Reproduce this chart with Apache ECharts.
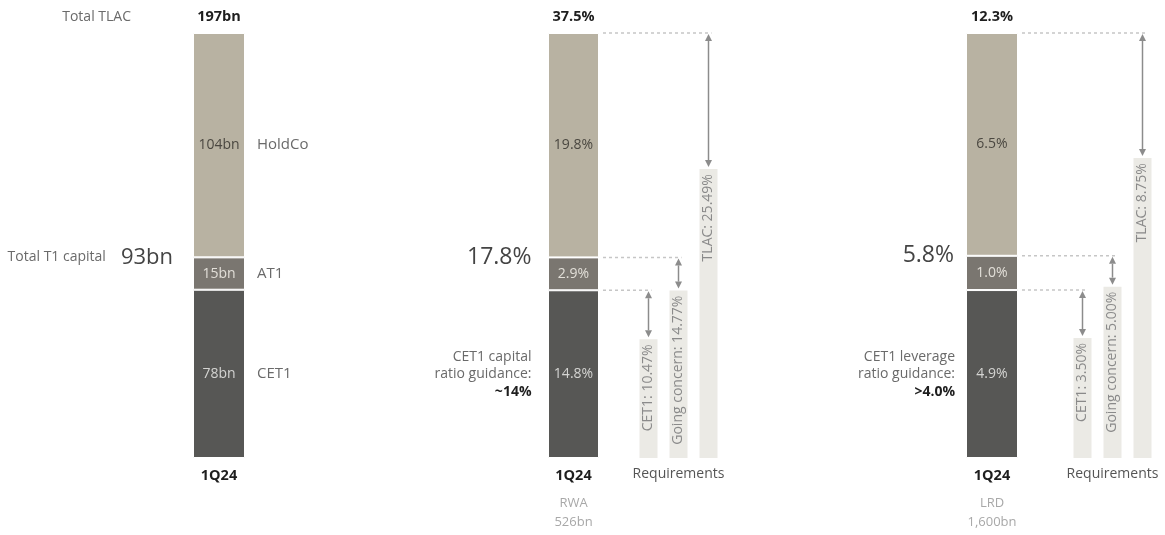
<!DOCTYPE html>
<html>
<head>
<meta charset="utf-8">
<script src="https://cdn.jsdelivr.net/npm/echarts/dist/echarts.min.js"></script>
<style>html,body{margin:0;padding:0;background:#fff}#c{width:1165px;height:535px}</style>
</head>
<body>
<div id="c"></div>
<script>
// ---------- data ----------
const period = ['1Q24'];
const segmentNames = ['CET1', 'AT1', 'HoldCo'];
const capitalBn = [78, 15, 104];
const capitalTotalLabel = '197bn';
const capitalTier1Label = '93bn';
const rwaPct = [14.8, 2.9, 19.8];
const rwaTotalLabel = '37.5%';
const rwaTier1Label = '17.8%';
const lrdPct = [4.9, 1.0, 6.5];
const lrdTotalLabel = '12.3%';
const lrdTier1Label = '5.8%';
const reqNames = ['CET1', 'Going concern', 'TLAC'];
const rwaReq = [10.47, 14.77, 25.49];
const lrdReq = [3.50, 5.00, 8.75];
const rwaDenom = ['RWA', '526bn'];
const lrdDenom = ['LRD', '1,600bn'];
const rwaGuidance = ['CET1 capital', 'ratio guidance:', '~14%'];
const lrdGuidance = ['CET1 leverage', 'ratio guidance:', '>4.0%'];

// ---------- style / layout ----------
const FONT = 'Open Sans';
const COL = { seg: ['#575755', '#7a7670', '#b8b2a2'], segText: ['#d4d4d2', '#e2dfd8', '#4a4740'],
  req: '#ebeae5', reqText: '#8a8a8a', arrow: '#8c8c8c', dash: '#c6c6c6', side: '#6a6a6a', dark: '#1e1e1e' };
const TOP = 33, HEIGHT = 425;
const P = [
  { left: 193, width: 52 },
  { left: 548, width: 51, reqLeft: 633.5, reqWidth: 90 },
  { left: 966, width: 52, reqLeft: 1067.5, reqWidth: 90 }
];

const sum = a => a.reduce((s, v) => s + v, 0);
const cum = a => a.map((v, i) => sum(a.slice(0, i + 1)));

const grids = [], xAxes = [], yAxes = [], series = [];

function addGrid(left, width, yMax, xCfg) {
  const gi = grids.length;
  grids.push({ left, width, top: TOP, height: HEIGHT, containLabel: false, outerBoundsMode: 'none' });
  xAxes.push(Object.assign({ gridIndex: gi, type: 'category', axisLine: { show: false }, axisTick: { show: false },
    splitLine: { show: false } }, xCfg));
  yAxes.push({ gridIndex: gi, type: 'value', min: 0, max: yMax, show: false, splitLine: { show: false } });
  return gi;
}

function mainGrid(p, vals, fmt, denom) {
  const total = sum(vals);
  const x = {
    data: period,
    axisLabel: { show: true, margin: 10, color: COL.dark, fontFamily: FONT, fontSize: 14.5, fontWeight: 'bold' }
  };
  if (denom) {
    Object.assign(x, { name: denom.join('\n'), nameLocation: 'middle', nameGap: 36,
      nameTextStyle: { color: '#a8a8a8', fontFamily: FONT, fontSize: 13, lineHeight: 19 } });
  }
  const gi = addGrid(p.left, p.width, total, x);
  vals.forEach((v, i) => {
    series.push({
      type: 'bar', name: segmentNames[i], stack: 'g' + gi, xAxisIndex: gi, yAxisIndex: gi,
      barWidth: '100%', data: [v], silent: true,
      itemStyle: { color: COL.seg[i], borderColor: '#ffffff', borderWidth: 1 },
      label: { show: true, position: 'inside', formatter: () => fmt(v), color: COL.segText[i],
        fontFamily: FONT, fontSize: 14 }
    });
  });
  return gi;
}

function annot(gi, specs) {
  series.push({
    type: 'custom', coordinateSystem: 'cartesian2d', xAxisIndex: gi, yAxisIndex: gi, silent: true, z: 6, clip: false,
    data: specs.map(s => [0, s.v]),
    renderItem: (params, api) => {
      const s = specs[params.dataIndex];
      const pt = api.coord([api.value(0), api.value(1)]);
      return { type: 'text', x: pt[0] + (s.dx || 0), y: pt[1] + (s.dy || 0),
        style: Object.assign({ text: s.text, fontFamily: FONT, fontSize: 14, fill: COL.side,
          align: s.align || 'left', verticalAlign: 'middle' }, s.style || {}) };
    }
  });
}

function reqGrid(p, req, vals, mainRight) {
  const total = sum(vals);
  const gi = addGrid(p.reqLeft, p.reqWidth, total, {
    data: reqNames, axisLabel: { show: false },
    name: 'Requirements', nameLocation: 'middle', nameGap: 9,
    nameTextStyle: { color: '#555555', fontFamily: FONT, fontSize: 14 }
  });
  series.push({
    type: 'bar', xAxisIndex: gi, yAxisIndex: gi, barWidth: 18, silent: true,
    data: req, itemStyle: { color: COL.req },
    label: { show: true, position: 'insideTop', distance: 5, rotate: 90, align: 'right', verticalAlign: 'middle',
      formatter: pr => reqNames[pr.dataIndex] + ': ' + pr.value.toFixed(2) + '%',
      color: COL.reqText, fontFamily: FONT, fontSize: 14 }
  });
  const c = cum(vals);
  const levels = [c[0], c[1], c[2]];
  series.push({
    type: 'custom', coordinateSystem: 'cartesian2d', xAxisIndex: gi, yAxisIndex: gi, silent: true, z: 7, clip: false,
    data: req.map((r, i) => [i, r, levels[i]]),
    renderItem: (params, api) => {
      const i = api.value(0);
      const a = api.coord([i, api.value(2)]);
      const b = api.coord([i, api.value(1)]);
      const x = a[0], y1 = a[1] + 1, y2 = b[1] - 2, h = 7, w = 3.5;
      return { type: 'group', children: [
        { type: 'line', shape: { x1: mainRight + 4, y1: a[1], x2: x + 3, y2: a[1] },
          style: { stroke: COL.dash, lineWidth: 1.5, lineDash: [3, 3] } },
        { type: 'line', shape: { x1: x, y1: y1 + h, x2: x, y2: y2 - h }, style: { stroke: COL.arrow, lineWidth: 1.5 } },
        { type: 'polygon', shape: { points: [[x, y1], [x - w, y1 + h], [x + w, y1 + h]] }, style: { fill: COL.arrow } },
        { type: 'polygon', shape: { points: [[x, y2], [x - w, y2 - h], [x + w, y2 - h]] }, style: { fill: COL.arrow } }
      ] };
    }
  });
  return gi;
}

// ---------- panel 1: capital in bn ----------
const g0 = mainGrid(P[0], capitalBn, v => v + 'bn', null);
const c0 = cum(capitalBn);
annot(g0, [
  { v: c0[2], dy: -16, align: 'center', text: capitalTotalLabel, style: { fontWeight: 'bold', fill: COL.dark, fontSize: 14.5 } },
  { v: c0[2], dx: -88, dy: -16, align: 'right', text: 'Total TLAC' },
  { v: c0[1], dx: -46, align: 'right', text: '{a|Total T1 capital}{b|' + capitalTier1Label + '}',
    style: { rich: { a: { fontFamily: FONT, fontSize: 14, fill: COL.side, color: COL.side, padding: [0, 15, 0, 0] },
      b: { fontFamily: FONT, fontSize: 22, fill: '#444', color: '#444' } } } },
  { v: c0[2] - capitalBn[2] / 2, dx: 38, text: segmentNames[2], style: { fontSize: 15 } },
  { v: c0[1] - capitalBn[1] / 2, dx: 38, text: segmentNames[1], style: { fontSize: 15 } },
  { v: c0[0] - capitalBn[0] / 2, dx: 38, text: segmentNames[0], style: { fontSize: 15 } }
]);

// ---------- panel 2: % of RWA ----------
const g1 = mainGrid(P[1], rwaPct, v => v.toFixed(1) + '%', rwaDenom);
const c1 = cum(rwaPct);
function guidanceSpec(lines, v, dx) {
  return { v, dx, align: 'right', text: '{a|' + lines[0] + '}\n{a|' + lines[1] + '}\n{b|' + lines[2] + '}',
    style: { lineHeight: 17.5, rich: { a: { fontFamily: FONT, fontSize: 14, fill: COL.side, color: COL.side, lineHeight: 17.5, align: 'right' },
      b: { fontFamily: FONT, fontSize: 14, fontWeight: 'bold', fill: COL.dark, color: COL.dark, lineHeight: 17.5, align: 'right' } } } };
}
annot(g1, [
  { v: c1[2], dy: -16, align: 'center', text: rwaTotalLabel, style: { fontWeight: 'bold', fill: COL.dark, fontSize: 14.5 } },
  { v: c1[1], dx: -42, align: 'right', text: rwaTier1Label, style: { fontSize: 23, fill: '#444' } },
  guidanceSpec(rwaGuidance, c1[0] / 2, -42)
]);
reqGrid(P[1], rwaReq, rwaPct, P[1].left + P[1].width);

// ---------- panel 3: % of LRD ----------
const g3 = mainGrid(P[2], lrdPct, v => v.toFixed(1) + '%', lrdDenom);
const c3 = cum(lrdPct);
annot(g3, [
  { v: c3[2], dy: -16, align: 'center', text: lrdTotalLabel, style: { fontWeight: 'bold', fill: COL.dark, fontSize: 14.5 } },
  { v: c3[1], dx: -38, align: 'right', text: lrdTier1Label, style: { fontSize: 23, fill: '#444' } },
  guidanceSpec(lrdGuidance, c3[0] / 2, -37)
]);
reqGrid(P[2], lrdReq, lrdPct, P[2].left + P[2].width);

const chart = echarts.init(document.getElementById('c'), null, { renderer: 'canvas' });
chart.setOption({
  animation: false,
  backgroundColor: '#ffffff',
  textStyle: { fontFamily: FONT },
  grid: grids, xAxis: xAxes, yAxis: yAxes, series
});
</script>
</body>
</html>
